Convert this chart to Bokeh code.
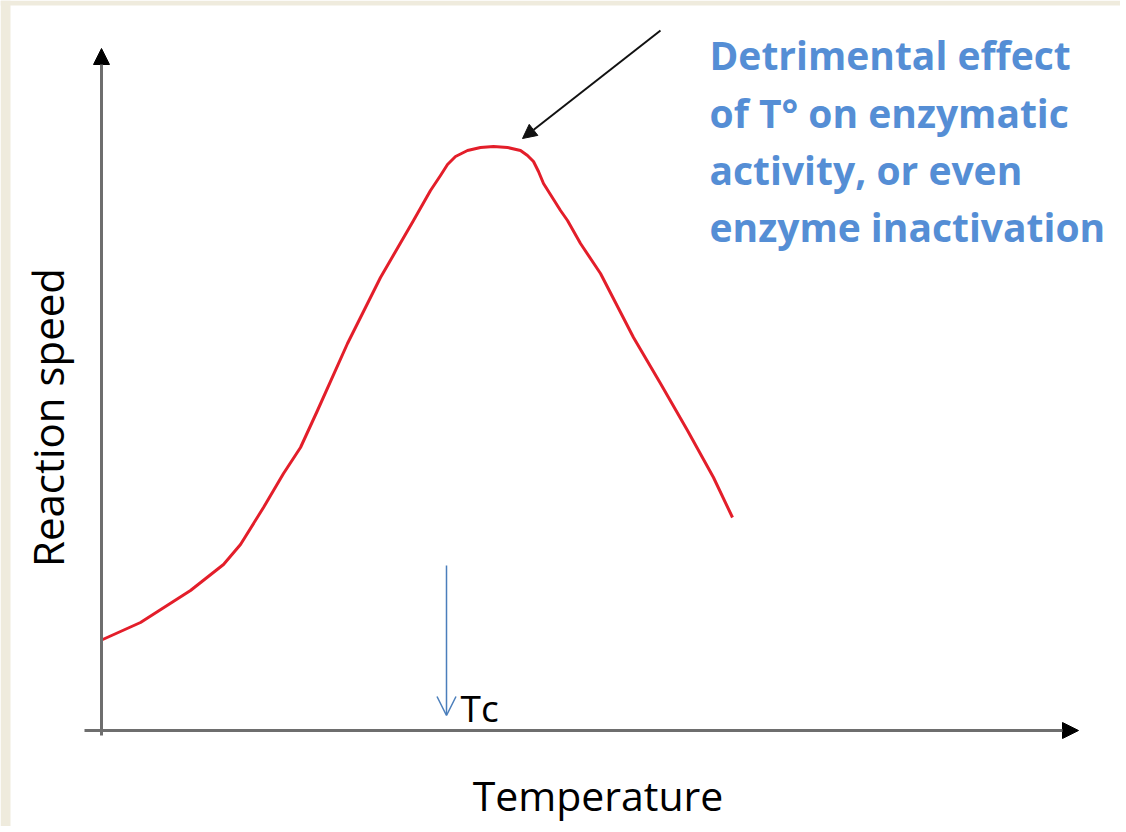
import math
from bokeh.plotting import figure
from bokeh.models import Range1d, Arrow, NormalHead, OpenHead, Label, BoxAnnotation
from bokeh.embed import file_html
from bokeh.resources import INLINE

# ---- data (arbitrary units) ----
temperature = [0.0, 4.0, 9.0, 12.3, 14.0, 16.3, 18.3, 20.0, 21.7, 24.7, 28.0, 31.3,
               33.0, 34.0, 34.7, 35.5, 36.7, 38.0, 39.3, 40.7, 42.0, 42.7, 43.3, 43.8,
               44.3, 46.0, 46.7, 48.0, 50.0, 53.3, 56.0, 58.7, 61.3, 63.2]
speed = [9.0, 10.8, 14.0, 16.6, 18.6, 22.3, 25.7, 28.3, 32.0, 38.7, 45.3, 51.0,
         54.0, 55.5, 56.6, 57.4, 58.0, 58.3, 58.4, 58.3, 58.0, 57.5, 56.9, 55.9,
         54.7, 52.0, 51.0, 48.7, 45.7, 39.3, 34.7, 30.0, 25.3, 21.3]

x_label = "Temperature"
y_label = "Reaction speed"
tc_label = "Tc"
tc_value = 34.6
annotation_lines = ["Detrimental effect", "of T\u00b0 on enzymatic",
                    "activity, or even", "enzyme inactivation"]

# axis extents / annotation anchors (data units)
x_axis_start, x_axis_end = -1.6, 97.8
y_axis_start, y_axis_end = -0.5, 68.2
pointer_start = (56.0, 70.0)
pointer_end = (42.2, 59.2)
tc_arrow_top, tc_arrow_bottom = 16.5, 1.5
text_x = 60.9
text_baselines = [67.6, 61.8, 56.1, 50.4]
x_label_pos = (49.75, -6.4)
y_label_pos = (-5.3, 31.3)
tc_label_pos = (36.0, 2.3)
page_edge_x, page_edge_y = -9.0, 72.5

p = figure(width=1120, height=826,
           x_range=Range1d(-10.0, 102.0), y_range=Range1d(-9.6, 73.0),
           output_backend="svg", toolbar_location=None,
           x_axis_location=None, y_axis_location=None,
           min_border=0, min_border_left=0, min_border_right=0,
           min_border_top=0, min_border_bottom=0)

p.background_fill_color = "white"
p.border_fill_color = "white"
p.outline_line_color = None
p.grid.visible = False

beige = "#efebdd"
p.add_layout(BoxAnnotation(right=page_edge_x, fill_color=beige, fill_alpha=1, line_color=None))
p.add_layout(BoxAnnotation(bottom=page_edge_y, fill_color=beige, fill_alpha=1, line_color=None))

# axes drawn as arrows
p.add_layout(Arrow(end=NormalHead(size=16, fill_color="black", line_color="black"),
                   x_start=x_axis_start, y_start=0, x_end=x_axis_end, y_end=0,
                   line_color="#6e6e6e", line_width=3))
p.add_layout(Arrow(end=NormalHead(size=16, fill_color="black", line_color="black"),
                   x_start=0.1, y_start=y_axis_start, x_end=0.1, y_end=y_axis_end,
                   line_color="#6e6e6e", line_width=3))

# axis titles
p.add_layout(Label(x=x_label_pos[0], y=x_label_pos[1], text=x_label, text_font="Open Sans",
                   text_font_size="41px", text_color="black",
                   text_align="center", text_baseline="alphabetic"))
p.add_layout(Label(x=y_label_pos[0], y=y_label_pos[1], text=y_label, text_font="Open Sans",
                   text_font_size="42px", text_color="black", angle=math.pi / 2,
                   text_align="center", text_baseline="alphabetic"))

# curve
p.line(temperature, speed, line_color="#e31e2a", line_width=3, line_join="round")

# pointer arrow to the peak
p.add_layout(Arrow(end=NormalHead(size=14, fill_color="#111111", line_color="#111111"),
                   x_start=pointer_start[0], y_start=pointer_start[1],
                   x_end=pointer_end[0], y_end=pointer_end[1],
                   line_color="#111111", line_width=2))

# Tc arrow and label
p.add_layout(Arrow(end=OpenHead(size=19, line_color="#4a7ebb", line_width=1.5),
                   x_start=tc_value, y_start=tc_arrow_top, x_end=tc_value, y_end=tc_arrow_bottom,
                   line_color="#4a7ebb", line_width=1.5))
p.add_layout(Label(x=tc_label_pos[0], y=tc_label_pos[1], text=tc_label, text_font="Open Sans",
                   text_font_size="37px", text_color="black", text_baseline="alphabetic"))

# annotation text
for line, yb in zip(annotation_lines, text_baselines):
    p.add_layout(Label(x=text_x, y=yb, text=line, text_font="Open Sans",
                       text_font_style="bold", text_font_size="39px",
                       text_color="#558ed5", text_baseline="alphabetic"))

open("out.html", "w").write(file_html(p, INLINE))
